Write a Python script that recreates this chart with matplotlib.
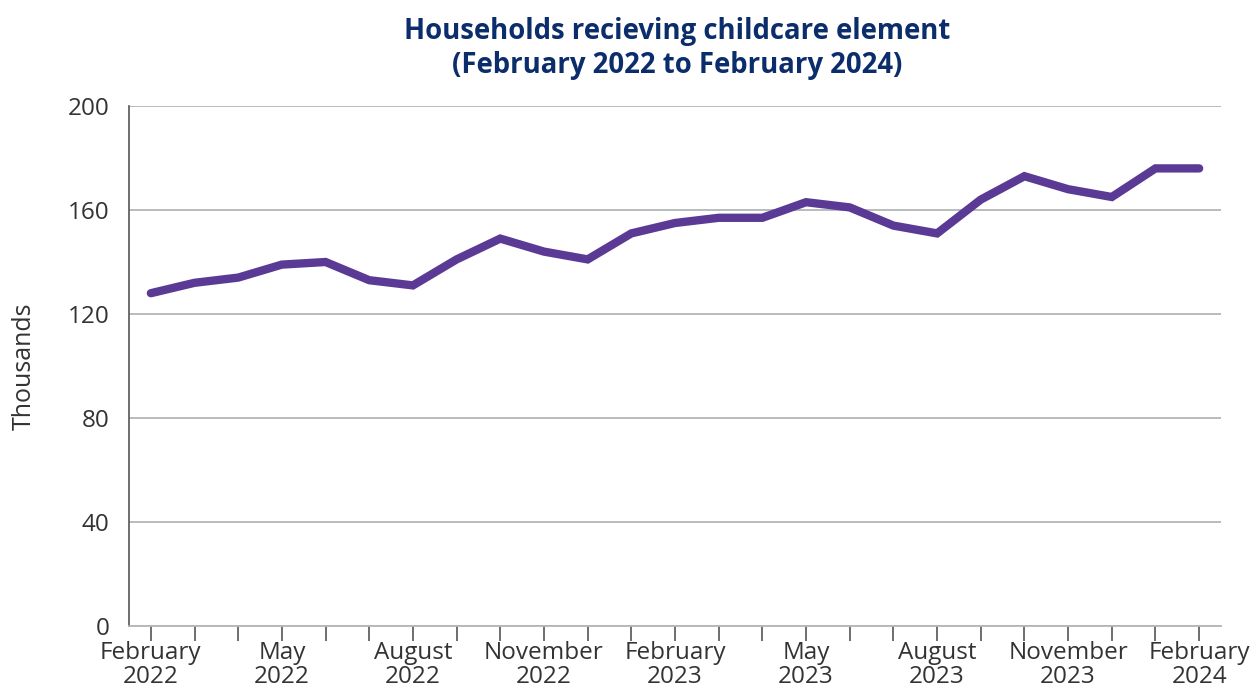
import matplotlib
matplotlib.use("Agg")
import matplotlib.pyplot as plt
import numpy as np

# ==============================
# DATA (thousands of households)
# ==============================
months = ["Feb 22", "Mar 22", "Apr 22", "May 22", "Jun 22", "Jul 22", "Aug 22",
          "Sep 22", "Oct 22", "Nov 22", "Dec 22", "Jan 23", "Feb 23", "Mar 23",
          "Apr 23", "May 23", "Jun 23", "Jul 23", "Aug 23", "Sep 23", "Oct 23",
          "Nov 23", "Dec 23", "Jan 24", "Feb 24"]
households = [128, 132, 134, 139, 140, 133, 131, 141, 149, 144, 141, 151, 155,
              157, 157, 163, 161, 154, 151, 164, 173, 168, 165, 176, 176]
tick_labels = ["February\n2022", "", "", "May\n2022", "", "", "August\n2022",
               "", "", "November\n2022", "", "", "February\n2023", "", "",
               "May\n2023", "", "", "August\n2023", "", "", "November\n2023",
               "", "", "February\n2024"]
y_ticks = [0, 40, 80, 120, 160, 200]

plt.rcParams["font.family"] = ["Open Sans", "DejaVu Sans"]

fig = plt.figure(figsize=(12.54, 6.95), dpi=100)
ax = fig.add_axes([129 / 1254, 1 - 626 / 695, (1221 - 129) / 1254, (626 - 106) / 695])

x = np.arange(len(households))
ax.plot(x, households, color="#5b3a96", lw=6, solid_capstyle="round",
        solid_joinstyle="miter", zorder=3)

ax.set_ylim(0, 200)
ax.set_xlim(-0.5, len(households) - 0.5)
ax.set_yticks(y_ticks)
ax.yaxis.grid(True, color="#b3b6ba", lw=1.3)
ax.set_axisbelow(True)

ax.set_xticks(x)
ax.set_xticklabels(tick_labels, fontsize=17.5, color="#333333", linespacing=1.0)
ax.tick_params(axis="x", length=11, width=1.2, color="#555555", pad=0)
ax.tick_params(axis="y", length=0, labelsize=17.5, labelcolor="#333333", pad=14)

for s in ["top", "right"]:
    ax.spines[s].set_visible(False)
ax.spines["left"].set_color("#555555")
ax.spines["left"].set_linewidth(1.2)
ax.spines["bottom"].set_color("#b3b6ba")
ax.spines["bottom"].set_linewidth(1.3)

ax.set_ylabel("Thousands", fontsize=18, color="#333333", labelpad=22)

fig.text(0.5 + 50 / 1254, 1 - 31 / 695, "Households recieving childcare element",
         ha="center", va="center", fontsize=19.8, fontweight="bold", color="#0b2d6b")
fig.text(0.5 + 50 / 1254, 1 - 66 / 695, "(February 2022 to February 2024)",
         ha="center", va="center", fontsize=19.8, fontweight="bold", color="#0b2d6b")

fig.savefig("out.png", dpi=100)
